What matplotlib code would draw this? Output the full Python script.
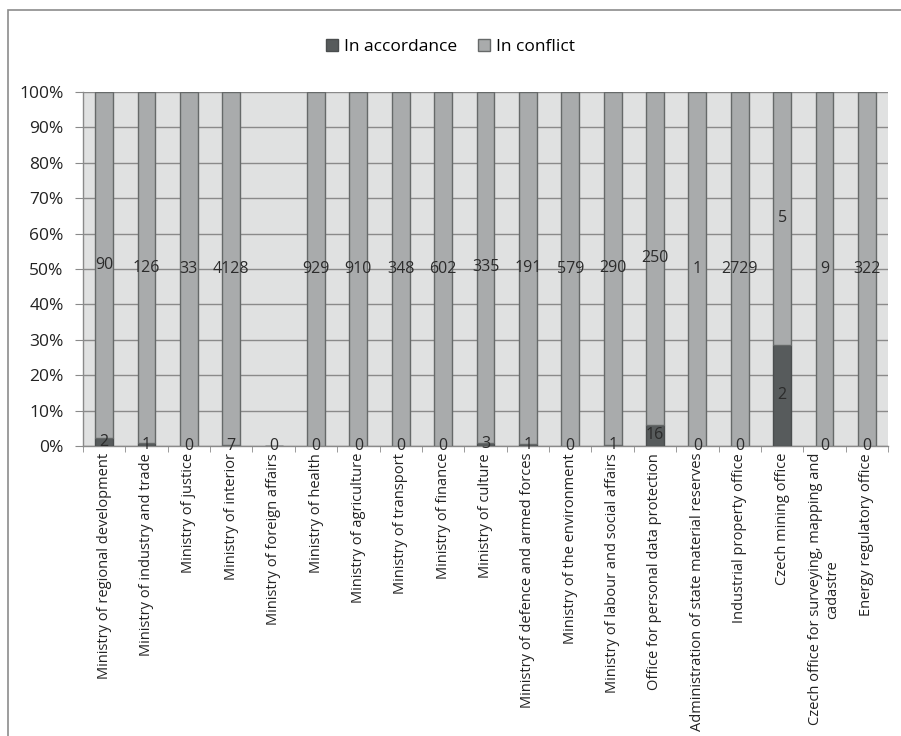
import numpy as np
import matplotlib
matplotlib.use("Agg")
import matplotlib.pyplot as plt
from matplotlib.patches import Rectangle

plt.rcParams['font.family'] = ['Open Sans', 'DejaVu Sans']

categories = [
    "Ministry of regional development",
    "Ministry of industry and trade",
    "Ministry of justice",
    "Ministry of interior",
    "Ministry of foreign affairs",
    "Ministry of health",
    "Ministry of agriculture",
    "Ministry of transport",
    "Ministry of finance",
    "Ministry of culture",
    "Ministry of defence and armed forces",
    "Ministry of the environment",
    "Ministry of labour and social affairs",
    "Office for personal data protection",
    "Administration of state material reserves",
    "Industrial property office",
    "Czech mining office",
    "Czech office for surveying, mapping and\ncadastre",
    "Energy regulatory office",
]
accordance = np.array([2, 1, 0, 7, 0, 0, 0, 0, 0, 3, 1, 0, 1, 16, 0, 0, 2, 0, 0])
conflict = np.array([90, 126, 33, 4128, 0, 929, 910, 348, 602, 335, 191, 579, 290, 250, 1, 2729, 5, 9, 322])

total = accordance + conflict
safe = np.where(total > 0, total, 1)
acc_pct = np.where(total > 0, accordance / safe * 100, 0)
con_pct = np.where(total > 0, conflict / safe * 100, 0)

fig = plt.figure(figsize=(9.01, 7.36), dpi=100)
ax = fig.add_axes([0.0921, 0.394, 0.8935, 0.481])

# outer chart frame (cut off at right/bottom like the reference)
fig.patches.append(Rectangle((8 / 901, -0.05), 1.2, 1 - 10 / 736 + 0.05,
                             transform=fig.transFigure, fill=False,
                             edgecolor="#8c8c8c", linewidth=1.2))

ax.set_facecolor("#e0e1e1")
x = np.arange(len(categories))
w = 0.42
ax.bar(x, acc_pct, w, color="#575b5c", edgecolor="#4a4d4e", linewidth=1,
       label="In accordance", zorder=3)
ax.bar(x, con_pct, w, bottom=acc_pct, color="#a9abac", edgecolor="#666969",
       linewidth=1, label="In conflict", zorder=3)

for i in range(len(categories)):
    ax.text(x[i], acc_pct[i] / 2, str(accordance[i]), ha="center", va="center",
            fontsize=11.5, color="#2b2b2b", zorder=5)
    if total[i] > 0:
        ax.text(x[i], acc_pct[i] + con_pct[i] / 2, str(conflict[i]), ha="center",
                va="center", fontsize=11.5, color="#2b2b2b", zorder=5)

ax.set_xlim(-0.5, len(categories) - 0.5)
ax.set_ylim(0, 100)
ax.set_yticks(np.arange(0, 101, 10))
ax.set_yticklabels([f"{v}%" for v in range(0, 101, 10)], fontsize=12.5, color="#222222")
ax.yaxis.grid(True, color="#8a8a8a", linewidth=1, zorder=1)
ax.tick_params(axis="y", length=6, color="#8a8a8a", pad=8)

ax.set_xticks(x)
ax.set_xticklabels(categories, rotation=90, fontsize=10.5, color="#222222",
                   ha="center", va="top", multialignment="center")
ax.tick_params(axis="x", which="major", length=0, pad=5)
ax.set_xticks(np.arange(-0.5, len(categories), 1), minor=True)
ax.tick_params(axis="x", which="minor", length=4, color="#8a8a8a")

for s in ["top", "right"]:
    ax.spines[s].set_visible(False)
for s in ["left", "bottom"]:
    ax.spines[s].set_color("#8a8a8a")
    ax.spines[s].set_linewidth(1)

fig.legend(loc="center", bbox_to_anchor=(0.5, 0.936), ncol=2, frameon=False,
           fontsize=12.5, handlelength=0.7, handleheight=0.7, handletextpad=0.35,
           columnspacing=1.2)

fig.savefig("out.png", dpi=100)
